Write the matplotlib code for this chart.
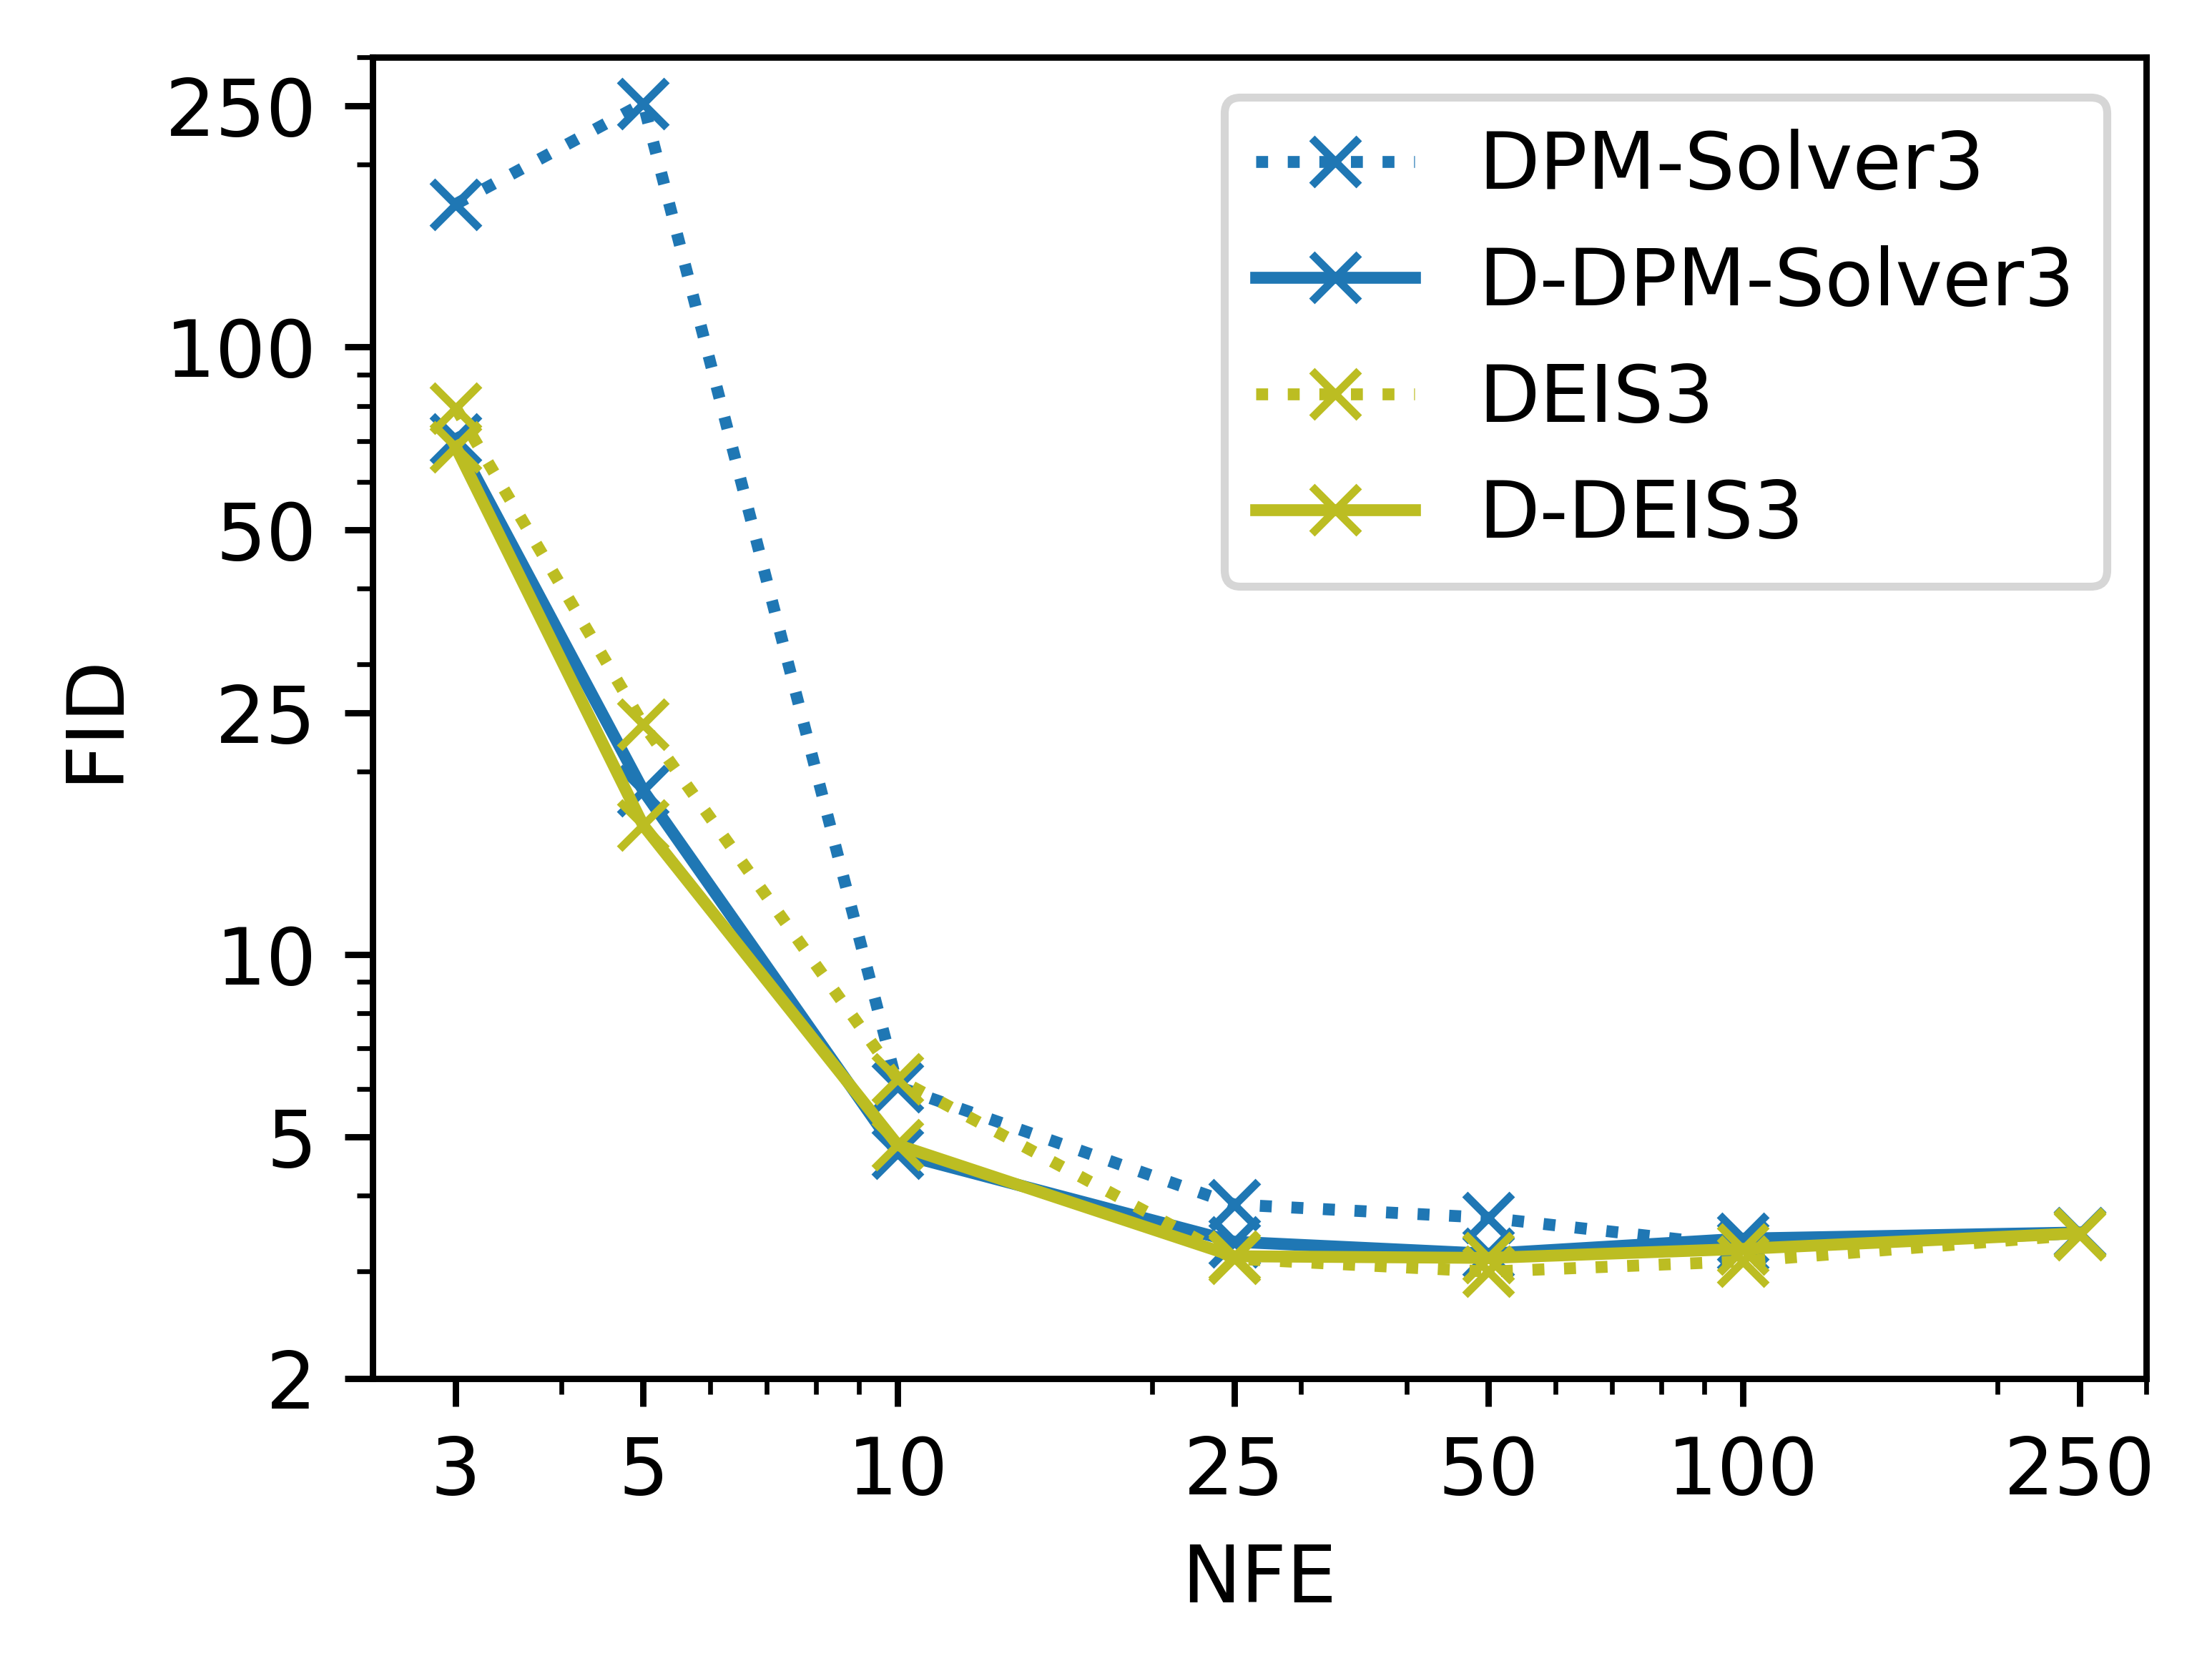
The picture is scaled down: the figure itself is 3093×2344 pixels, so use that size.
import matplotlib
matplotlib.use("Agg")
import matplotlib.pyplot as plt
from matplotlib.ticker import FixedLocator, FixedFormatter, NullFormatter, LogLocator

# NFE steps and FID values
nfe = [3, 5, 10, 25, 50, 100, 250]
fid_dpm = [172, 252, 6.05, 3.87, 3.68, 3.30, 3.47]
fid_d_dpm = [70.5, 18.6, 4.70, 3.36, 3.21, 3.40, 3.48]
fid_deis = [79.4, 23.9, 6.23, 3.15, 3.00, 3.12, 3.45]
fid_d_deis = [68.5, 16.3, 4.85, 3.18, 3.16, 3.27, 3.47]

x_ticks = [3, 5, 10, 25, 50, 100, 250]
y_ticks = [2, 5, 10, 25, 50, 100, 250]

BLUE = "#1f77b4"
OLIVE = "#bcbd22"

fig = plt.figure(figsize=(3093 / 800, 2344 / 800), dpi=800)
ax = fig.add_axes([0.1683, 0.1775, 0.9703 - 0.1683, 0.9657 - 0.1775])

ax.plot(nfe, fid_dpm, ":", marker="x", color=BLUE, label="DPM-Solver3")
ax.plot(nfe, fid_d_dpm, "-", marker="x", color=BLUE, label="D-DPM-Solver3")
ax.plot(nfe, fid_deis, ":", marker="x", color=OLIVE, label="DEIS3")
ax.plot(nfe, fid_d_deis, "-", marker="x", color=OLIVE, label="D-DEIS3")

ax.set_xscale("log")
ax.set_yscale("log")
ax.set_xlim(2.39, 300)
ax.set_ylim(2, 300)

ax.xaxis.set_major_locator(FixedLocator(x_ticks))
ax.xaxis.set_major_formatter(FixedFormatter([str(t) for t in x_ticks]))
ax.xaxis.set_minor_locator(LogLocator(base=10, subs=range(2, 10)))
ax.xaxis.set_minor_formatter(NullFormatter())
ax.yaxis.set_major_locator(FixedLocator(y_ticks))
ax.yaxis.set_major_formatter(FixedFormatter([str(t) for t in y_ticks]))
ax.yaxis.set_minor_locator(LogLocator(base=10, subs=range(2, 10)))
ax.yaxis.set_minor_formatter(NullFormatter())

ax.set_xlabel("NFE")
ax.set_ylabel("FID")
ax.legend(loc="upper right")

fig.savefig("out.png", dpi=800)
